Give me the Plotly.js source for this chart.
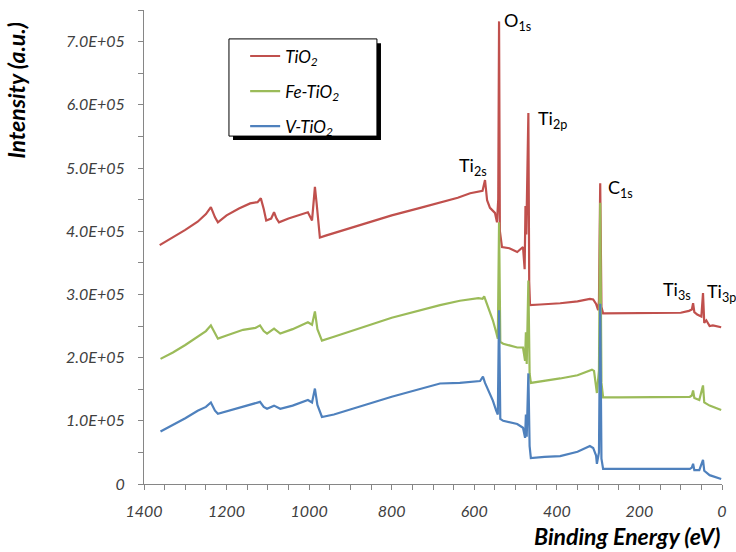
<!DOCTYPE html>
<html>
<head>
<meta charset="utf-8">
<script src="https://cdn.plot.ly/plotly-3.0.1.min.js"></script>
<style>html,body{margin:0;padding:0;background:#fff;}#chart{width:736px;height:552px;}</style>
</head>
<body>
<div id="chart"></div>
<script>
// Binding energy (eV) and intensity values
const tio2X = [1362,1330,1300,1270,1250,1238,1228,1221,1200,1170,1143,1125,1117,1110,1104,1092,1085,1079,1073,1050,1020,1003,993,988,986,982,974,960,900,800,731,683,640,610,590,580,574,569,562,550,545,542,540,538,533,515,496,482,478,476,474,469,467,465,440,392,350,320,312,305,300,298,295,292,288,250,199,150,100,80,73,70,67,60,50,46,43,38,30,22,10,2];
const tio2Y = [3.78e5,3.90e5,4.02e5,4.15e5,4.27e5,4.38e5,4.22e5,4.14e5,4.25e5,4.36e5,4.44e5,4.46e5,4.52e5,4.35e5,4.17e5,4.20e5,4.30e5,4.20e5,4.14e5,4.20e5,4.26e5,4.30e5,4.17e5,4.50e5,4.70e5,4.45e5,3.90e5,3.93e5,4.05e5,4.25e5,4.37e5,4.46e5,4.53e5,4.60e5,4.62e5,4.64e5,4.81e5,4.49e5,4.37e5,4.29e5,4.14e5,4.50e5,7.32e5,4.00e5,3.75e5,3.73e5,3.67e5,3.75e5,3.40e5,4.40e5,3.95e5,5.87e5,3.20e5,2.83e5,2.84e5,2.86e5,2.89e5,2.93e5,2.92e5,2.85e5,2.75e5,2.90e5,4.76e5,2.80e5,2.70e5,2.70e5,2.70e5,2.70e5,2.71e5,2.74e5,2.76e5,2.86e5,2.72e5,2.68e5,2.65e5,3.02e5,2.55e5,2.59e5,2.50e5,2.51e5,2.49e5,2.48e5];

const feX = [1360,1330,1300,1270,1250,1238,1228,1221,1200,1160,1130,1119,1110,1102,1085,1070,1040,1003,993,986,980,969,940,880,800,683,635,590,580,576,570,555,547,543,540,537,530,496,482,477,475,473,469,466,463,430,392,350,315,310,303,298,295,292,288,250,199,120,78,73,70,67,55,46,43,30,15,2];
const feY = [1.98e5,2.08e5,2.20e5,2.33e5,2.42e5,2.51e5,2.37e5,2.30e5,2.35e5,2.44e5,2.47e5,2.51e5,2.42e5,2.38e5,2.46e5,2.38e5,2.45e5,2.56e5,2.52e5,2.73e5,2.45e5,2.27e5,2.33e5,2.46e5,2.63e5,2.83e5,2.90e5,2.94e5,2.93e5,2.97e5,2.87e5,2.59e5,2.40e5,2.30e5,4.14e5,2.25e5,2.22e5,2.16e5,2.16e5,1.95e5,2.40e5,1.90e5,3.22e5,1.75e5,1.60e5,1.63e5,1.67e5,1.72e5,1.81e5,1.79e5,1.44e5,1.80e5,4.45e5,1.60e5,1.37e5,1.37e5,1.37e5,1.37e5,1.38e5,1.40e5,1.48e5,1.36e5,1.33e5,1.56e5,1.29e5,1.24e5,1.20e5,1.17e5];

const vX = [1360,1330,1300,1270,1250,1238,1228,1221,1190,1150,1119,1110,1102,1085,1070,1040,1003,993,986,980,969,940,880,800,683,635,586,579,574,560,555,547,543,540,537,530,496,482,477,475,473,469,466,463,430,392,350,320,312,305,303,298,295,292,288,250,199,120,78,73,70,67,55,46,43,30,15,2];
const vY = [0.83e5,0.93e5,1.04e5,1.16e5,1.22e5,1.29e5,1.16e5,1.11e5,1.17e5,1.25e5,1.30e5,1.22e5,1.19e5,1.24e5,1.19e5,1.24e5,1.33e5,1.29e5,1.51e5,1.25e5,1.06e5,1.10e5,1.22e5,1.38e5,1.59e5,1.60e5,1.63e5,1.70e5,1.60e5,1.40e5,1.32e5,1.16e5,1.10e5,2.75e5,1.03e5,1.00e5,0.95e5,0.89e5,0.73e5,1.10e5,0.75e5,1.75e5,0.60e5,0.41e5,0.43e5,0.44e5,0.51e5,0.60e5,0.57e5,0.45e5,0.32e5,0.50e5,2.85e5,0.40e5,0.24e5,0.24e5,0.24e5,0.24e5,0.24e5,0.26e5,0.32e5,0.22e5,0.22e5,0.38e5,0.21e5,0.14e5,0.11e5,0.08e5];

const seriesNames = ['TiO<sub>2</sub>', 'Fe-TiO<sub>2</sub>', 'V-TiO<sub>2</sub>'];
const seriesColors = ['#C0504D', '#9BBB59', '#4F81BD'];

const yTickVals = [0,1e5,2e5,3e5,4e5,5e5,6e5,7e5];
const yTickText = ['0','1.0E+05','2.0E+05','3.0E+05','4.0E+05','5.0E+05','6.0E+05','7.0E+05'];
const xTickVals = [1400,1200,1000,800,600,400,200,0];

const peakLabels = ['O<sub>1s</sub>','Ti<sub>2p</sub>','Ti<sub>2s</sub>','C<sub>1s</sub>','Ti<sub>3s</sub>','Ti<sub>3p</sub>'];
const peakLabelX = [534, 451, 643, 281, 147, 40];
const peakLabelY = [7.32e5, 5.76e5, 5.03e5, 4.68e5, 3.06e5, 3.03e5];

const FONT = 'Lato, "Open Sans", sans-serif';

const xs = [tio2X, feX, vX];
const ys = [tio2Y, feY, vY];
const traces = xs.map((x, i) => ({
  x: x, y: ys[i], type: 'scatter', mode: 'lines',
  name: seriesNames[i], legendgroup: 'g' + i,
  line: {color: seriesColors[i], width: 2.2}
}));

const annotations = peakLabels.map((t, i) => ({
  x: peakLabelX[i], y: peakLabelY[i], xref: 'x', yref: 'y',
  text: t, showarrow: false, xanchor: 'left', yanchor: 'middle',
  font: {family: FONT, size: 18, color: '#000'}
}));
annotations.push({
  xref: 'paper', yref: 'paper', x: 1.0, y: -0.11, xanchor: 'right', yanchor: 'middle',
  text: '<b><i>Binding Energy (eV)</i></b>', showarrow: false,
  font: {family: FONT, size: 23, color: '#000'}
});
annotations.push({
  xref: 'paper', yref: 'paper', x: -0.222, y: 0.831, xanchor: 'center', yanchor: 'middle',
  text: '<b><i>Intensity (a.u.)</i></b>', showarrow: false, textangle: -90,
  font: {family: FONT, size: 23, color: '#000'}
});

const layout = {
  width: 736, height: 552,
  margin: {l: 144, r: 14, t: 10, b: 68},
  paper_bgcolor: '#fff', plot_bgcolor: '#fff',
  showlegend: true,
  legend: {
    x: 0.175, y: 0.940, xanchor: 'left', yanchor: 'top',
    bgcolor: 'rgba(0,0,0,0)', borderwidth: 0,
    tracegroupgap: 10, itemwidth: 30,
    font: {family: FONT, size: 17, color: '#000', style: 'italic'}
  },
  xaxis: {
    range: [1400, 0], showgrid: false, zeroline: false,
    showline: true, linecolor: '#868686', linewidth: 1,
    ticks: 'outside', ticklen: 5, tickcolor: '#868686',
    tickvals: xTickVals, ticktext: xTickVals.map(String),
    ticklabelstandoff: 8,
    minor: {dtick: 50, ticks: 'outside', ticklen: 5, tickcolor: '#868686', showgrid: false},
    tickfont: {family: FONT, size: 16, color: '#404040', style: 'italic'}
  },
  yaxis: {
    range: [0, 7.5e5], showgrid: false, zeroline: false,
    showline: true, linecolor: '#868686', linewidth: 1,
    ticks: 'outside', ticklen: 5, tickcolor: '#868686',
    tickvals: yTickVals, ticktext: yTickText,
    ticklabelstandoff: 10,
    minor: {dtick: 5e4, ticks: 'outside', ticklen: 5, tickcolor: '#868686', showgrid: false},
    tickfont: {family: FONT, size: 16, color: '#404040', style: 'italic'}
  },
  shapes: [
    {type: 'rect', xref: 'paper', yref: 'paper', x0: 0.154, x1: 0.410, y0: 0.726, y1: 0.930,
     fillcolor: '#000', line: {width: 0}, layer: 'above'},
    {type: 'rect', xref: 'paper', yref: 'paper', x0: 0.147, x1: 0.403, y0: 0.734, y1: 0.939,
     fillcolor: '#fff', line: {color: '#000', width: 1}, layer: 'above'}
  ],
  annotations: annotations
};

Plotly.newPlot('chart', traces, layout, {displayModeBar: false, staticPlot: true});
</script>
</body>
</html>
